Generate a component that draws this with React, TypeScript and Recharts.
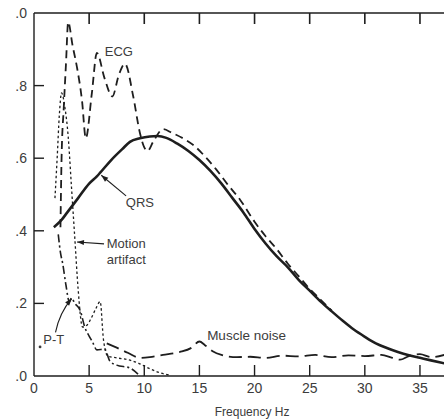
import { LineChart, Line, XAxis, YAxis, ReferenceDot, ReferenceLine } from "recharts";

const INK = "#1e1e1e";
const TEXT = "#3c3c3c";
const FONT = "'Liberation Sans', Arial, sans-serif";

const CHART_W = 444;
const CHART_H = 419;
const TOP_H = 13;
const BOTTOM_H = 43;
const PLOT_H = CHART_H - TOP_H - BOTTOM_H;

const X_MAX = 37.18;
const xTicks = [0, 5, 10, 15, 20, 25, 30, 35];
const yTicks = [0, 0.2, 0.4, 0.6, 0.8, 1.0];
const yTickLabels = [".0", ".2", ".4", ".6", ".8", ".0"];

// relative power
const qrsHz = [1.8, 2.5, 3, 4, 5, 5.7, 6, 7, 8, 8.7, 9.6, 10.5, 11.2, 12, 13, 14, 15, 16, 17, 18, 19, 20, 21, 22, 23, 24, 25, 26, 27, 28, 29, 30, 31, 32, 33, 34, 35, 36, 37.2];
const qrsPow = [0.41, 0.43, 0.45, 0.49, 0.53, 0.55, 0.56, 0.595, 0.625, 0.645, 0.655, 0.66, 0.661, 0.656, 0.64, 0.62, 0.595, 0.565, 0.53, 0.49, 0.45, 0.405, 0.365, 0.33, 0.3, 0.265, 0.235, 0.205, 0.178, 0.152, 0.128, 0.108, 0.09, 0.077, 0.066, 0.057, 0.05, 0.043, 0.035];

const ecgHz = [2.4, 2.5, 2.7, 2.9, 3.1, 3.5, 3.9, 4.35, 4.7, 5.25, 5.7, 6.4, 7.1, 7.7, 8.25, 9.0, 9.6, 10.0, 10.3, 10.8, 11.7, 12.5, 13.5, 14.5, 15.5, 16.5, 17.5, 18.7, 20, 21, 22, 23, 24, 25, 26, 27];
const ecgPow = [0.41, 0.6, 0.74, 0.86, 0.975, 0.91, 0.85, 0.76, 0.655, 0.78, 0.89, 0.82, 0.77, 0.83, 0.86, 0.77, 0.67, 0.63, 0.62, 0.645, 0.68, 0.67, 0.655, 0.635, 0.605, 0.57, 0.53, 0.485, 0.425, 0.385, 0.35, 0.31, 0.275, 0.24, 0.21, 0.18];

const motionHz = [1.9, 2.1, 2.3, 2.5, 2.8, 3.1, 3.4, 3.7, 4.0, 4.4, 4.8, 5.2, 5.6, 6.0, 6.3, 6.7, 7.5, 8.5, 9.5, 10.5, 11.5, 12.3];
const motionPow = [0.49, 0.6, 0.72, 0.78, 0.74, 0.66, 0.52, 0.38, 0.24, 0.135, 0.14, 0.16, 0.185, 0.205, 0.1, 0.055, 0.05, 0.045, 0.035, 0.02, 0.008, 0.003];

const ptHz = [2.2, 2.4, 2.6, 2.9, 3.2, 3.4, 3.7, 4.2, 4.6, 5.0, 5.3, 5.7, 6.4, 6.9, 7.5, 8.7, 9.6];
const ptPow = [0.39, 0.34, 0.31, 0.25, 0.205, 0.215, 0.2, 0.18, 0.135, 0.11, 0.094, 0.072, 0.074, 0.04, 0.03, 0.022, 0.0];

const muscleHz = [6.6, 7.5, 8.5, 9.6, 10.5, 11.7, 13.2, 14.3, 15.0, 15.5, 16.2, 17, 18.4, 19.6, 21, 22.5, 24, 25.5, 27, 28.5, 30, 31.5, 32.5, 33.2, 34, 35, 36, 37.2];
const musclePow = [0.09, 0.078, 0.064, 0.05, 0.052, 0.058, 0.066, 0.078, 0.095, 0.085, 0.068, 0.058, 0.052, 0.053, 0.05, 0.056, 0.054, 0.058, 0.052, 0.057, 0.055, 0.058, 0.05, 0.045, 0.055, 0.06, 0.052, 0.058];

const pts = (hz: number[], p: number[]) => hz.map((f, i) => ({ f, p: p[i] }));

// bottom tick also draws the matching inward tick on the top frame
function BottomTick({ x, y, payload }: any) {
  const top = y - PLOT_H;
  return (
    <g>
      {payload.value !== 0 && <line x1={x} y1={y} x2={x} y2={y - 11} stroke={INK} strokeWidth={1.4} />}
      {payload.value !== 0 && <rect x={x - 0.8} y={top} width={1.6} height={11} fill={INK} />}
      <text x={x} y={y + 17} textAnchor="middle" fontSize={14} fill={TEXT} fontFamily={FONT}>
        {payload.value}
      </text>
    </g>
  );
}

function LeftTick({ x, y, payload }: any) {
  const label = yTickLabels[yTicks.indexOf(payload.value)];
  return (
    <g>
      {payload.value !== 0 && payload.value !== 1 && (
        <line x1={x} y1={y} x2={x + 10} y2={y} stroke={INK} strokeWidth={1.4} />
      )}
      <text x={x - 7} y={y + 5} textAnchor="end" fontSize={14} fill={TEXT} fontFamily={FONT}>
        {label}
      </text>
    </g>
  );
}

function arrowHead(x1: number, y1: number, x2: number, y2: number) {
  const a = Math.atan2(y2 - y1, x2 - x1);
  const L = 7;
  const W = 2.6;
  const bx = x2 - L * Math.cos(a);
  const by = y2 - L * Math.sin(a);
  const nx = -Math.sin(a) * W;
  const ny = Math.cos(a) * W;
  return `M${x2},${y2} L${bx + nx},${by + ny} L${bx - nx},${by - ny} Z`;
}

function Arrow(props: any) {
  const { x1, y1, x2, y2 } = props;
  return (
    <g>
      <line x1={x1} y1={y1} x2={x2} y2={y2} stroke={INK} strokeWidth={1.1} />
      <path d={arrowHead(x1, y1, x2, y2)} fill={INK} />
    </g>
  );
}

function CurvedArrow(props: any) {
  const { x1, y1, x2, y2 } = props;
  const cx = (x1 + x2) / 2 - 4;
  const cy = (y1 + y2) / 2 - 3;
  return (
    <g>
      <path d={`M${x1},${y1} Q${cx},${cy} ${x2},${y2}`} stroke={INK} strokeWidth={1.1} fill="none" />
      <path d={arrowHead(cx, cy, x2, y2)} fill={INK} />
    </g>
  );
}

const textShape = (text: string, anchor: string = "middle", size = 13) => (props: any) => (
  <text x={props.cx} y={props.cy} dy="0.35em" textAnchor={anchor} fontSize={size} fill={TEXT} fontFamily={FONT}>
    {text}
  </text>
);

const dotShape = (props: any) => <circle cx={props.cx} cy={props.cy} r={1.4} fill={TEXT} />;

function AxisTitle(props: any) {
  const vb = props.viewBox ?? { x: 34, y: 376, width: 410, height: BOTTOM_H };
  return (
    <text x={vb.x + vb.width * 0.532} y={vb.y + vb.height - 3} textAnchor="middle" fontSize={12} fill={TEXT} fontFamily={FONT}>
      Frequency Hz
    </text>
  );
}

export default function App() {
  return (
    <div style={{ position: "absolute", left: 0, top: 0, width: CHART_W, height: CHART_H, background: "#fff", overflow: "hidden" }}>
      <LineChart width={CHART_W} height={CHART_H} margin={{ top: 0, right: 0, bottom: 0, left: 0 }}>
        <XAxis
          xAxisId="top"
          orientation="top"
          type="number"
          dataKey="f"
          domain={[0, X_MAX]}
          ticks={xTicks}
          height={TOP_H}
          tick={false}
          tickLine={false}
          axisLine={{ stroke: INK, strokeWidth: 1.4 }}
          allowDataOverflow
        />
        <XAxis
          type="number"
          dataKey="f"
          domain={[0, X_MAX]}
          ticks={xTicks}
          height={BOTTOM_H}
          tickSize={0}
          tickMargin={0}
          tick={BottomTick}
          tickLine={false}
          axisLine={{ stroke: INK, strokeWidth: 1.4 }}
          allowDataOverflow
          label={AxisTitle}
        />
        <YAxis
          type="number"
          domain={[0, 1]}
          ticks={yTicks}
          width={34}
          tickSize={0}
          tickMargin={0}
          tick={LeftTick}
          tickLine={false}
          axisLine={{ stroke: INK, strokeWidth: 1.4 }}
          allowDataOverflow
        />

        <Line data={pts(muscleHz, musclePow)} dataKey="p" type="monotone" stroke={INK} strokeWidth={1.8} strokeDasharray="13 6" dot={false} activeDot={false} isAnimationActive={false} />
        <Line data={pts(ptHz, ptPow)} dataKey="p" type="monotone" stroke={INK} strokeWidth={1.6} strokeDasharray="8 3 2 3" dot={false} activeDot={false} isAnimationActive={false} />
        <Line data={pts(motionHz, motionPow)} dataKey="p" type="monotone" stroke={INK} strokeWidth={1.3} strokeDasharray="2.5 2.5" dot={false} activeDot={false} isAnimationActive={false} />
        <Line data={pts(ecgHz, ecgPow)} dataKey="p" type="monotone" stroke={INK} strokeWidth={1.8} strokeDasharray="8 5" dot={false} activeDot={false} isAnimationActive={false} />
        <Line data={pts(qrsHz, qrsPow)} dataKey="p" type="monotone" stroke={INK} strokeWidth={2.6} dot={false} activeDot={false} isAnimationActive={false} />

        <ReferenceDot x={7.7} y={0.895} r={0} shape={textShape("ECG")} />
        <ReferenceDot x={9.6} y={0.477} r={0} shape={textShape("QRS")} />
        <ReferenceLine segment={[{ x: 8.35, y: 0.496 }, { x: 6.1, y: 0.553 }]} shape={Arrow} />
        <ReferenceDot x={6.6} y={0.364} r={0} shape={textShape("Motion", "start")} />
        <ReferenceDot x={6.6} y={0.322} r={0} shape={textShape("artifact", "start")} />
        <ReferenceLine segment={[{ x: 6.35, y: 0.364 }, { x: 3.9, y: 0.369 }]} shape={Arrow} />
        <ReferenceDot x={0.55} y={0.08} r={0} shape={dotShape} />
        <ReferenceDot x={0.85} y={0.102} r={0} shape={textShape("P-T", "start")} />
        <ReferenceLine segment={[{ x: 1.95, y: 0.12 }, { x: 3.42, y: 0.213 }]} shape={CurvedArrow} />
        <ReferenceDot x={15.7} y={0.113} r={0} shape={textShape("Muscle noise", "start", 13.5)} />
      </LineChart>
    </div>
  );
}
